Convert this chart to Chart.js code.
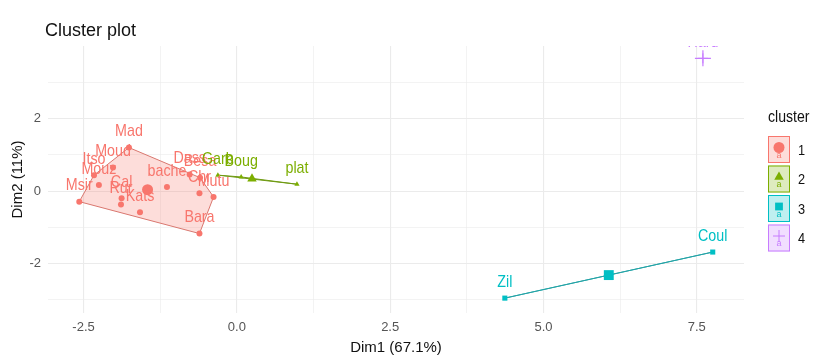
<!DOCTYPE html>
<html>
<head>
<meta charset="utf-8">
<script src="https://cdn.jsdelivr.net/npm/chart.js@4.4.1/dist/chart.umd.min.js"></script>
<style>
  html, body { margin: 0; padding: 0; background: #fff; }
  #wrap { width: 814px; height: 358px; }
</style>
</head>
<body>
<div id="wrap"><canvas id="clusterChart" width="814" height="358"></canvas></div>
<script>
// Cluster members (Dim1, Dim2)
const c1Names = ['Msir', 'Itso', 'Mouz', 'Moud', 'Mad', 'Cal', 'Rur', 'Kats', 'bache', 'Dass', 'Besa', 'Chr', 'Mutu', 'Bara'];
const c1X = [-2.57, -2.33, -2.25, -2.02, -1.76, -1.88, -1.89, -1.58, -1.14, -0.77, -0.60, -0.61, -0.38, -0.61];
const c1Y = [-0.29, 0.44, 0.17, 0.65, 1.20, -0.20, -0.37, -0.58, 0.11, 0.46, 0.37, -0.06, -0.16, -1.17];

const c2Names = ['Garb', 'Boug', 'plat'];
const c2X = [-0.31, 0.07, 0.98];
const c2Y = [0.44, 0.39, 0.19];

const c3Names = ['Zil', 'Coul'];
const c3X = [4.37, 7.76];
const c3Y = [-2.95, -1.68];

const c4Names = ['Hard'];
const c4X = [7.60];
const c4Y = [3.66];

const clusterLabels = ['1', '2', '3', '4'];
const xMajorTicks = [-2.5, 0, 2.5, 5, 7.5];
const yMajorTicks = [-2, 0, 2];

const COLORS = ['#F8766D', '#7CAE00', '#00BFC4', '#C77CFF'];
const EDGE = ['#D9776F', '#6F9A12', '#23A3A6', '#C77CFF'];
const STYLES = ['circle', 'triangle', 'rect', 'cross'];
const FONT = "'Liberation Sans', Arial, sans-serif";

function rgba(hex, a) {
    const n = parseInt(hex.slice(1), 16);
    return `rgba(${n >> 16}, ${(n >> 8) & 255}, ${n & 255}, ${a})`;
}

// text squeezed horizontally, like the narrow lettering of the original
function narrowText(ctx, text, x, y, sx) {
    ctx.save();
    ctx.translate(x, y);
    ctx.scale(sx, 1);
    ctx.fillText(text, 0, 0);
    ctx.restore();
}

const clusters = [
    { names: c1Names, xs: c1X, ys: c1Y },
    { names: c2Names, xs: c2X, ys: c2Y },
    { names: c3Names, xs: c3X, ys: c3Y },
    { names: c4Names, xs: c4X, ys: c4Y }
];

// convex hull (monotone chain)
function hull(pts) {
    const p = pts.slice().sort((a, b) => a.x - b.x || a.y - b.y);
    if (p.length < 3) return p;
    const cross = (o, a, b) => (a.x - o.x) * (b.y - o.y) - (a.y - o.y) * (b.x - o.x);
    const lower = [], upper = [];
    p.forEach(q => {
        while (lower.length >= 2 && cross(lower[lower.length - 2], lower[lower.length - 1], q) <= 0) lower.pop();
        lower.push(q);
    });
    for (let i = p.length - 1; i >= 0; i--) {
        const q = p[i];
        while (upper.length >= 2 && cross(upper[upper.length - 2], upper[upper.length - 1], q) <= 0) upper.pop();
        upper.push(q);
    }
    upper.pop(); lower.pop();
    return lower.concat(upper);
}

const datasets = [];
clusters.forEach((c, k) => {
    const pts = c.xs.map((x, i) => ({ x: x, y: c.ys[i] }));
    const cx = c.xs.reduce((s, v) => s + v, 0) / c.xs.length;
    const cy = c.ys.reduce((s, v) => s + v, 0) / c.ys.length;

    if (pts.length > 1) {
        const h = hull(pts);
        h.push(h[0]);
        datasets.push({
            type: 'line',
            data: h,
            borderColor: EDGE[k],
            borderWidth: 1,
            backgroundColor: rgba(COLORS[k], 0.25),
            fill: pts.length > 2 ? 'shape' : false,
            pointRadius: 0,
            tension: 0,
            order: 3
        });
    }
    datasets.push({
        type: 'scatter',
        data: pts,
        labels: c.names,
        pointStyle: STYLES[k],
        pointRadius: k === 2 ? 3.6 : (k === 3 ? 5 : 3),
        borderWidth: k === 3 ? 1 : 0,
        backgroundColor: COLORS[k],
        borderColor: COLORS[k],
        order: 2
    });
    datasets.push({
        type: 'scatter',
        data: [{ x: cx, y: cy }],
        pointStyle: STYLES[k],
        pointRadius: k === 2 ? 7 : (k === 3 ? 8 : 5.5),
        borderWidth: k === 3 ? 1.2 : 0,
        backgroundColor: COLORS[k],
        borderColor: COLORS[k],
        order: 1
    });
});

const pointLabels = {
    id: 'pointLabels',
    afterDatasetsDraw(chart) {
        const { ctx, chartArea: a } = chart;
        ctx.save();
        ctx.beginPath();
        ctx.rect(a.left, a.top, a.right - a.left, a.bottom - a.top);
        ctx.clip();
        ctx.font = `17px ${FONT}`;
        ctx.textAlign = 'center';
        ctx.textBaseline = 'middle';
        chart.data.datasets.forEach((ds, di) => {
            if (!ds.labels) return;
            const meta = chart.getDatasetMeta(di);
            ctx.fillStyle = ds.backgroundColor;
            meta.data.forEach((el, i) => {
                narrowText(ctx, ds.labels[i], el.x, el.y - 16, 0.84);
            });
        });
        ctx.restore();
    }
};

const decorations = {
    id: 'decorations',
    afterDraw(chart) {
        const { ctx } = chart;
        ctx.save();
        // title
        ctx.fillStyle = '#111';
        ctx.font = `18px ${FONT}`;
        ctx.textAlign = 'left';
        ctx.textBaseline = 'middle';
        ctx.fillText('Cluster plot', 45, 31);

        // legend
        ctx.font = `16px ${FONT}`;
        narrowText(ctx, 'cluster', 768, 118, 0.88);
        clusterLabels.forEach((lab, k) => {
            const x = 768, y = 136 + k * 29.5, w = 22, h = 27;
            ctx.fillStyle = rgba(COLORS[k], 0.25);
            ctx.fillRect(x, y, w, h);
            ctx.strokeStyle = COLORS[k];
            ctx.lineWidth = 1;
            ctx.strokeRect(x + 0.5, y + 0.5, w - 1, h - 1);
            ctx.fillStyle = COLORS[k];
            ctx.strokeStyle = COLORS[k];
            Chart.helpers.drawPoint(ctx, {
                pointStyle: STYLES[k],
                radius: k === 3 ? 6 : 5.5,
                borderWidth: k === 3 ? 1 : 0,
                rotation: 0
            }, x + w / 2, y + h / 2 - 2);
            ctx.font = `9px ${FONT}`;
            ctx.textAlign = 'center';
            ctx.fillText('a', x + w / 2, y + h / 2 + 6);
            ctx.fillStyle = '#111';
            ctx.font = `15px ${FONT}`;
            ctx.textAlign = 'left';
            narrowText(ctx, lab, 798, y + h / 2 + 1, 0.85);
        });
        ctx.restore();
    }
};

function allTicks(major) {
    const step = (major[1] - major[0]) / 2;
    const out = [];
    for (let v = major[0] - step; v <= major[major.length - 1] + step + 1e-9; v += step) out.push(+v.toFixed(4));
    return out;
}
const isMajor = (list, v) => list.some(m => Math.abs(m - v) < 1e-6);

new Chart(document.getElementById('clusterChart').getContext('2d'), {
    data: { datasets: datasets },
    plugins: [pointLabels, decorations],
    options: {
        responsive: false,
        animation: false,
        layout: { padding: { top: 46, right: 70, left: 0, bottom: 0 } },
        plugins: {
            legend: { display: false },
            tooltip: { enabled: false }
        },
        scales: {
            x: {
                type: 'linear',
                min: -3.08,
                max: 8.27,
                afterBuildTicks: s => { s.ticks = allTicks(xMajorTicks).filter(v => v >= s.min && v <= s.max).map(v => ({ value: v })); },
                afterFit: s => { s.height = 45; },
                border: { display: false },
                grid: {
                    drawTicks: false,
                    color: '#EBEBEB',
                    lineWidth: c => isMajor(xMajorTicks, c.tick.value) ? 1.1 : 0.6
                },
                ticks: {
                    autoSkip: false,
                    maxRotation: 0,
                    padding: 7,
                    color: '#555',
                    font: { family: FONT, size: 13 },
                    callback: v => isMajor(xMajorTicks, v) ? v.toFixed(1) : ''
                },
                title: {
                    display: true,
                    text: 'Dim1 (67.1%)',
                    color: '#111',
                    font: { family: FONT, size: 15 },
                    padding: { top: 0, bottom: 1 }
                }
            },
            y: {
                type: 'linear',
                min: -3.36,
                max: 4.0,
                afterBuildTicks: s => { s.ticks = allTicks(yMajorTicks).filter(v => v >= s.min && v <= s.max).map(v => ({ value: v })); },
                afterFit: s => { s.width = 48; },
                border: { display: false },
                grid: {
                    drawTicks: false,
                    color: '#EBEBEB',
                    lineWidth: c => isMajor(yMajorTicks, c.tick.value) ? 1.1 : 0.6
                },
                ticks: {
                    autoSkip: false,
                    padding: 7,
                    color: '#555',
                    font: { family: FONT, size: 13 },
                    callback: v => isMajor(yMajorTicks, v) ? String(v) : ''
                },
                title: {
                    display: true,
                    text: 'Dim2 (11%)',
                    color: '#111',
                    font: { family: FONT, size: 15 },
                    padding: { top: 9, bottom: 0 }
                }
            }
        }
    }
});
</script>
</body>
</html>
